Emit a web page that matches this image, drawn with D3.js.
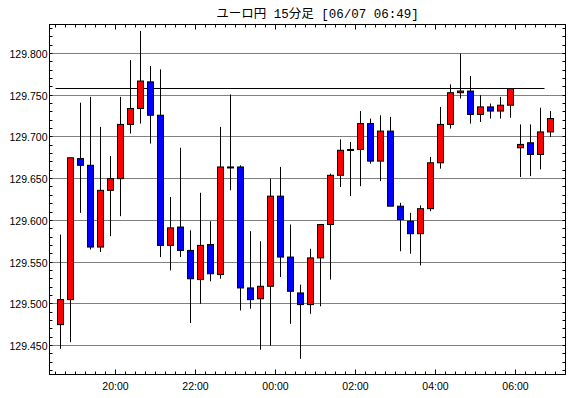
<!DOCTYPE html>
<html>
<head>
<meta charset="utf-8">
<script src="https://cdn.jsdelivr.net/npm/d3@7"></script>
<style>
  body { margin: 0; background: #fff; }
  svg { display: block; }
</style>
</head>
<body>
<div id="chart"></div>
<script>
// 表示データ（15分足）
const titleText = 'ユーロ円 15分足 [06/07 06:49]';

const times = [
  '06/06 18:30', '06/06 18:45', '06/06 19:00', '06/06 19:15', '06/06 19:30', '06/06 19:45',
  '06/06 20:00', '06/06 20:15', '06/06 20:30', '06/06 20:45', '06/06 21:00', '06/06 21:15',
  '06/06 21:30', '06/06 21:45', '06/06 22:00', '06/06 22:15', '06/06 22:30', '06/06 22:45',
  '06/06 23:00', '06/06 23:15', '06/06 23:30', '06/06 23:45', '06/07 00:00', '06/07 00:15',
  '06/07 00:30', '06/07 00:45', '06/07 01:00', '06/07 01:15', '06/07 01:30', '06/07 01:45',
  '06/07 02:00', '06/07 02:15', '06/07 02:30', '06/07 02:45', '06/07 03:00', '06/07 03:15',
  '06/07 03:30', '06/07 03:45', '06/07 04:00', '06/07 04:15', '06/07 04:30', '06/07 04:45',
  '06/07 05:00', '06/07 05:15', '06/07 05:30', '06/07 05:45', '06/07 06:00', '06/07 06:15',
  '06/07 06:30', '06/07 06:45'
];

const opens = [
  129.475, 129.505, 129.674, 129.666, 129.568, 129.636, 129.650, 129.715, 129.734, 129.766,
  129.726, 129.570, 129.592, 129.564, 129.529, 129.571, 129.535, 129.664, 129.664, 129.519,
  129.506, 129.521, 129.629, 129.556, 129.513, 129.499, 129.555, 129.595, 129.654, 129.685,
  129.685, 129.716, 129.671, 129.707, 129.617, 129.599, 129.584, 129.614, 129.669, 129.715,
  129.753, 129.755, 129.727, 129.736, 129.731, 129.738, 129.687, 129.693, 129.679, 129.706
];
const highs = [
  129.583, 129.675, 129.741, 129.748, 129.712, 129.677, 129.748, 129.792, 129.827, 129.785,
  129.781, 129.628, 129.687, 129.588, 129.633, 129.599, 129.712, 129.751, 129.666, 129.587,
  129.575, 129.650, 129.664, 129.595, 129.523, 129.566, 129.595, 129.656, 129.697, 129.694,
  129.731, 129.722, 129.726, 129.724, 129.621, 129.609, 129.618, 129.676, 129.736, 129.763,
  129.800, 129.773, 129.750, 129.740, 129.748, 129.758, 129.715, 129.715, 129.735, 129.731
];
const lows = [
  129.446, 129.454, 129.609, 129.565, 129.562, 129.581, 129.605, 129.704, 129.716, 129.692,
  129.556, 129.540, 129.556, 129.477, 129.500, 129.527, 129.530, 129.636, 129.492, 129.494,
  129.445, 129.450, 129.532, 129.476, 129.434, 129.488, 129.497, 129.529, 129.640, 129.629,
  129.641, 129.668, 129.647, 129.617, 129.563, 129.560, 129.546, 129.611, 129.662, 129.710,
  129.746, 129.716, 129.718, 129.722, 129.722, 129.723, 129.652, 129.653, 129.661, 129.700
];
const closes = [
  129.505, 129.675, 129.666, 129.568, 129.636, 129.650, 129.715, 129.734, 129.767, 129.726,
  129.570, 129.591, 129.564, 129.530, 129.570, 129.536, 129.664, 129.664, 129.519, 129.505,
  129.521, 129.629, 129.556, 129.515, 129.499, 129.555, 129.595, 129.654, 129.684, 129.685,
  129.716, 129.671, 129.707, 129.617, 129.601, 129.584, 129.614, 129.669, 129.715, 129.753,
  129.755, 129.727, 129.736, 129.731, 129.738, 129.758, 129.691, 129.679, 129.706, 129.722
];

// 目盛り
const yTicks = [129.45, 129.50, 129.55, 129.60, 129.65, 129.70, 129.75, 129.80];
const xTicks = ['06/06 20:00', '06/06 22:00', '06/07 00:00', '06/07 02:00', '06/07 04:00', '06/07 06:00'];

// 水平線
const refLevel = 129.758;

const width = 570;
const height = 398;
const frame = { left: 49.5, right: 565.5, top: 24.5, bottom: 374.5 };

const parseTime = d3.timeParse('%m/%d %H:%M');
const fmtTime = d3.timeFormat('%H:%M');

const bars = times.map((t, i) => ({
  t: parseTime(t), o: opens[i], h: highs[i], l: lows[i], c: closes[i]
}));

const svg = d3.select('#chart').append('svg')
  .attr('width', width)
  .attr('height', height);

// スケール
const x = d3.scaleTime()
  .domain([bars[0].t, bars[bars.length - 1].t])
  .range([55.5, 545.5]);

const y = d3.scaleLinear()
  .domain([129.45, 129.80])
  .range([345.5, 53.5]);

const crisp = v => Math.round(v - 0.5) + 0.5;
const step = x(bars[1].t) - x(bars[0].t);
const half = step / 2;

// タイトル
svg.append('text')
  .attr('x', 317.5)
  .attr('y', 17.5)
  .attr('text-anchor', 'middle')
  .style('font-family', '"Liberation Mono", "Noto Sans CJK JP", monospace')
  .style('font-size', '12.5px')
  .style('fill', '#000')
  .text(titleText);

// グリッド線
svg.append('g')
  .selectAll('line')
  .data(yTicks)
  .enter().append('line')
  .attr('x1', frame.left)
  .attr('x2', frame.right)
  .attr('y1', d => crisp(y(d)))
  .attr('y2', d => crisp(y(d)))
  .attr('stroke', '#000')
  .attr('stroke-width', 1)
  .attr('stroke-dasharray', '1,1');

// Y軸ラベル
svg.append('g')
  .selectAll('text')
  .data(yTicks)
  .enter().append('text')
  .attr('x', 47.5)
  .attr('y', d => crisp(y(d)) + 1)
  .attr('dy', '0.35em')
  .attr('text-anchor', 'end')
  .style('font-family', '"Liberation Sans", Arial, sans-serif')
  .style('font-size', '10.5px')
  .style('fill', '#000')
  .text(d => d.toFixed(3));

// Y軸の小目盛り (0.01刻み)
const yLo = y.invert(frame.bottom);
const yHi = y.invert(frame.top);
const yMinor = d3.range(Math.ceil(yLo * 100), Math.floor(yHi * 100) + 1).map(d => d / 100);

const ticks = svg.append('g').attr('stroke', '#000').attr('stroke-width', 1);

yMinor.forEach(v => {
  const yy = crisp(y(v));
  ticks.append('line').attr('x1', frame.left).attr('x2', frame.left + 3).attr('y1', yy).attr('y2', yy);
  ticks.append('line').attr('x1', frame.right - 3).attr('x2', frame.right).attr('y1', yy).attr('y2', yy);
});

// X軸の目盛り (15分刻み、2時間ごとに長い目盛り)
const xMinor = d3.timeMinute.every(15).range(x.invert(frame.left), x.invert(frame.right));
const xMajor = xTicks.map(parseTime);
const isMajor = t => xMajor.some(m => +m === +t);

xMinor.forEach(t => {
  const xx = crisp(x(t));
  const len = isMajor(t) ? 5 : 3;
  ticks.append('line').attr('x1', xx).attr('x2', xx).attr('y1', frame.top).attr('y2', frame.top + len);
  ticks.append('line').attr('x1', xx).attr('x2', xx).attr('y1', frame.bottom - len).attr('y2', frame.bottom);
});

svg.append('g')
  .selectAll('text')
  .data(xMajor)
  .enter().append('text')
  .attr('x', d => crisp(x(d)))
  .attr('y', 390)
  .attr('text-anchor', 'middle')
  .style('font-family', '"Liberation Sans", Arial, sans-serif')
  .style('font-size', '10.5px')
  .style('fill', '#000')
  .text(d => fmtTime(d));

// 水平線
svg.append('line')
  .attr('x1', x(bars[0].t))
  .attr('x2', x(bars[bars.length - 1].t) - 1)
  .attr('y1', crisp(y(refLevel)))
  .attr('y2', crisp(y(refLevel)))
  .attr('stroke', '#000')
  .attr('stroke-width', 1);

// ローソク足
const candle = svg.append('g')
  .selectAll('g')
  .data(bars)
  .enter().append('g');

candle.append('line')
  .attr('x1', d => x(d.t) + half)
  .attr('x2', d => x(d.t) + half)
  .attr('y1', d => y(d.h))
  .attr('y2', d => y(d.l))
  .attr('stroke', '#000')
  .attr('stroke-width', 1);

candle.append('rect')
  .attr('x', d => x(d.t) + half - 3)
  .attr('width', 6)
  .attr('y', d => y(Math.max(d.o, d.c)))
  .attr('height', d => Math.max(Math.abs(y(d.o) - y(d.c)), 1))
  .attr('fill', d => d.c > d.o ? '#ff0000' : d.c < d.o ? '#0000ff' : '#000')
  .attr('stroke', '#000')
  .attr('stroke-width', 1);

// 枠
svg.append('rect')
  .attr('x', frame.left)
  .attr('y', frame.top)
  .attr('width', frame.right - frame.left)
  .attr('height', frame.bottom - frame.top)
  .attr('fill', 'none')
  .attr('stroke', '#000')
  .attr('stroke-width', 1);
</script>
</body>
</html>
